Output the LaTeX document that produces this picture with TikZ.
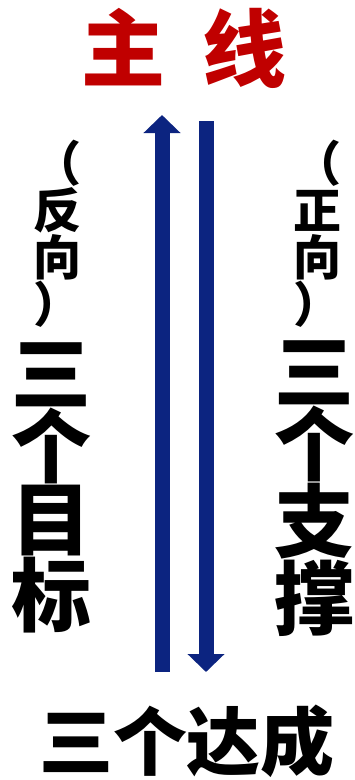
\documentclass[tikz,border=0pt]{standalone}
\usepackage{fontspec}
\usetikzlibrary{arrows.meta}
\newfontfamily\cjk{Noto Sans CJK SC}
\definecolor{titlered}{RGB}{192,0,0}
\definecolor{navy}{RGB}{12,36,128}
\tikzset{
  title/.style={font=\cjk\bfseries\fontsize{84}{84}\selectfont, text=titlered, inner sep=0pt},
  bigcol/.style={font=\cjk\bfseries\fontsize{80}{73}\selectfont, align=center, inner sep=0pt},
  smallcol/.style={font=\cjk\bfseries\fontsize{48}{47}\selectfont, align=center, inner sep=0pt},
  bottomtxt/.style={font=\cjk\bfseries\fontsize{74}{74}\selectfont, inner sep=0pt},
  bigarrow/.style={navy, line width=15pt, -{Triangle[width=36pt,length=18pt]}}
}
\begin{document}
\begin{tikzpicture}[x=1pt,y=-1pt]
\useasboundingbox (0,0) rectangle (354,780);
\node[title] (title) at (184,48) {主\hspace{0.45em}线};
\node[smallcol] (lsmall) at (57,234) {（\\反\\向\\）};
\node[smallcol] (rsmall) at (317,234) {（\\正\\向\\）};
\node[bigcol] (lbig) at (52,488) {三\\个\\目\\标};
\node[bigcol] (rbig) at (314,489) {三\\个\\支\\撑};
\node[bottomtxt] (bottom) at (187,741) {三个达成};
\coordinate (la) at (162,672);
\coordinate (lb) at (162,115);
\coordinate (ra) at (206,121);
\coordinate (rb) at (206,672);
\draw[bigarrow] (la) -- (lb);
\draw[bigarrow] (ra) -- (rb);
\end{tikzpicture}
\end{document}
